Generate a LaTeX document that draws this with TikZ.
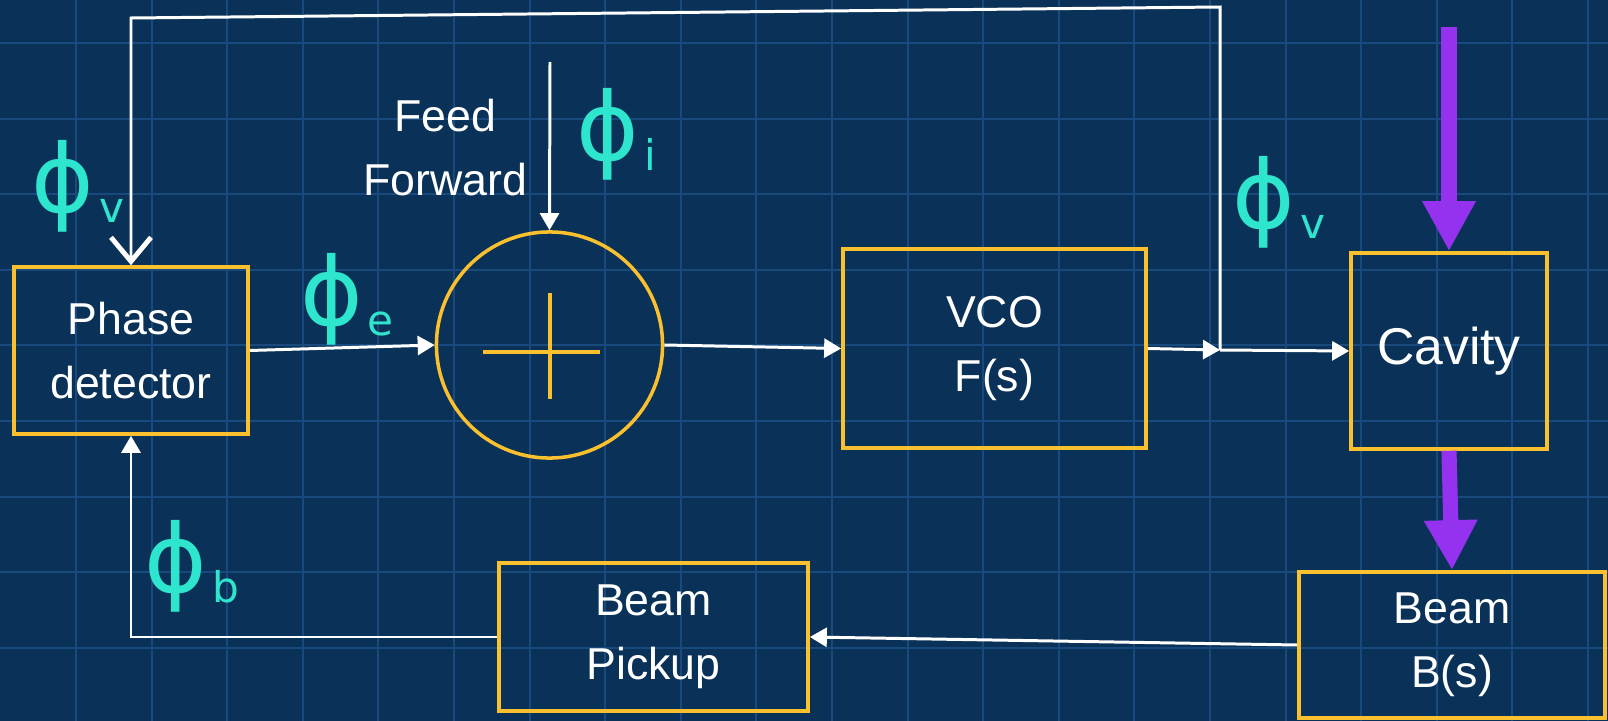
\documentclass[tikz,border=0pt]{standalone}
\usepackage{fontspec}
\setmainfont{Liberation Sans}
\newfontfamily\handfont{DejaVu Sans}
\usepackage{xcolor}
\usetikzlibrary{positioning,arrows.meta}
\definecolor{bgblue}{RGB}{10,50,88}
\definecolor{gridblue}{RGB}{24,74,126}
\definecolor{boxyellow}{RGB}{250,192,45}
\definecolor{hand}{RGB}{45,230,205}
\definecolor{purp}{RGB}{148,50,240}
\newcommand{\boxfont}{\fontsize{12.7}{18.2}\selectfont}
% handwritten phase symbol with its index
\newcommand{\phs}[1]{\fontsize{27}{30}\selectfont ϕ\kern1.5pt\raisebox{-3pt}{\fontsize{12}{14}\selectfont #1}}
\tikzset{
block/.style={
draw=boxyellow,
line width=1pt,
text=white,
align=center,
inner sep=0pt,
font=\boxfont
},
sumnode/.style={
circle,
draw=boxyellow,
line width=1pt,
minimum size=2.26cm,
inner sep=0pt
},
wire/.style={
draw=white,
line width=0.85pt
},
arrow/.style={
wire,
-{Triangle[length=0.17cm,width=0.19cm]}
},
beamarrow/.style={
draw=purp,
line width=4.3pt,
-{Triangle[length=0.5cm,width=0.5cm]}
},
phase/.style={
text=hand,
inner sep=0pt,
font=\handfont
}
}

\begin{document}
\begin{tikzpicture}[x=0.01cm,y=-0.01cm]
% background and grid
\fill[bgblue] (0,0) rectangle (1608,721);
\useasboundingbox (0,0) rectangle (1608,721);
\foreach \k in {1,...,21}
\draw[gridblue,line width=0.55pt] (0.4+75.6*\k,0) -- (0.4+75.6*\k,721);
\foreach \k in {0,...,8}
\draw[gridblue,line width=0.55pt] (0,43+75.6*\k) -- (1608,43+75.6*\k);

% blocks
\node[block,minimum width=2.34cm,minimum height=1.67cm] (pd) at (131,350.5) {Phase\\detector};
\node[sumnode] (sum) at (549.5,345) {};
\node[block,minimum width=3.03cm,minimum height=1.99cm] (vco) at (994.5,348.5) {VCO\\F(s)};
\node[block,minimum width=1.96cm,minimum height=1.96cm,font=\fontsize{14.7}{18}\selectfont] (cav) at (1449,351) {Cavity};
\node[block,minimum width=3.06cm,minimum height=1.46cm] (beam) at (1452,645) {Beam\\B(s)};
\node[block,minimum width=3.09cm,minimum height=1.48cm] (pick) at (653.5,637) {Beam\\Pickup};
\node[text=white,align=center,font=\boxfont] (ff) at (445,148) {Feed\\Forward};

% plus sign
\draw[boxyellow,line width=1pt] ([shift={(-67,7)}]sum.center) -- ([shift={(50,7)}]sum.center);
\draw[boxyellow,line width=1pt] ([shift={(0.5,-52)}]sum.center) -- ([shift={(0.5,54)}]sum.center);

% junction and free ends
\coordinate (jn) at (1220,350);
\coordinate (tr) at (1220,7);
\coordinate (tl) at (131,18);
\coordinate (ffin) at (550,62);
\coordinate (src) at (1449,27);

% connectors
\draw[arrow] (pd.east) -- (sum.west);
\draw[arrow] (sum.east) -- (vco.west);
\draw[arrow] (vco.east) -- (jn);
\draw[arrow] (jn) -- (cav.west);
\draw[wire,-{Straight Barb[length=0.24cm,width=0.4cm,line width=1.4pt]}] (jn) -- (tr) -- (tl) -- (pd.north);
\draw[arrow] (ffin) -- (sum.north);
\draw[arrow] (beam.west) -- (pick.east);
\draw[arrow] (pick.west) -| (pd.south);
\draw[beamarrow] (src) -- (cav.north);
\draw[beamarrow] (cav.south) -- (beam.north);

% phase labels
\node[phase] (phv) at (78,186) {\phs{v}};
\node[phase] (phe) at (347,299) {\phs{e}};
\node[phase] (phi) at (616,134) {\phs{i}};
\node[phase] (phvr) at (1279,202) {\phs{v}};
\node[phase] (phb) at (192,566) {\phs{b}};
\end{tikzpicture}
\end{document}
